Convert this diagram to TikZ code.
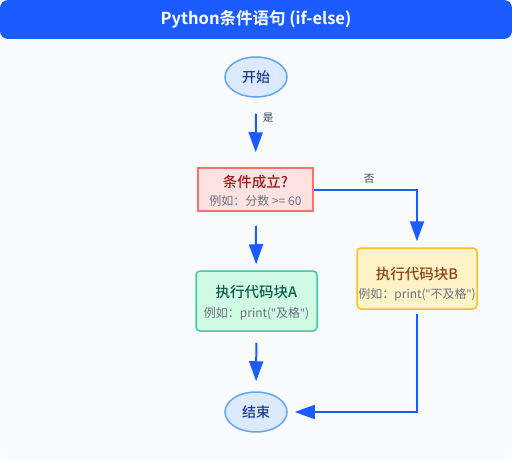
\documentclass[tikz,border=0pt]{standalone}
\usepackage{fontspec}
\setmainfont{Noto Sans CJK SC}[BoldFont={Noto Sans CJK SC Bold}]
\newfontfamily\cjkmed{Noto Sans CJK SC Medium}
\newfontfamily\latq{Noto Sans}
\usetikzlibrary{shapes.geometric,arrows.meta}
\definecolor{bgc}{HTML}{F8FAFC}
\definecolor{hdr}{HTML}{1A5CFF}
\definecolor{arr}{HTML}{1A5CFF}
\definecolor{ovfill}{HTML}{DBEAFE}
\definecolor{ovdraw}{HTML}{60A5FA}
\definecolor{ovtext}{HTML}{1E3A8A}
\definecolor{cfill}{HTML}{FEE2E2}
\definecolor{cdraw}{HTML}{F87171}
\definecolor{ctext}{HTML}{991B1B}
\definecolor{afill}{HTML}{D1FAE5}
\definecolor{adraw}{HTML}{34D399}
\definecolor{atext}{HTML}{065F46}
\definecolor{bfill}{HTML}{FEF3C7}
\definecolor{bdraw}{HTML}{FBBF24}
\definecolor{btext}{HTML}{92400E}
\definecolor{subtext}{HTML}{6B7280}
\definecolor{lbl}{HTML}{374151}
\newcommand{\qq}{{\latq"}}
\begin{document}
\begin{tikzpicture}[x=1pt,y=-1pt,
  oval/.style={ellipse,draw=ovdraw,fill=ovfill,line width=1.5pt,minimum width=62pt,minimum height=40pt,inner sep=0pt,text=ovtext,font=\cjkmed\fontsize{14}{16}\selectfont},
  boxc/.style={rectangle,draw=cdraw,fill=cfill,line width=1.5pt,minimum width=115pt,minimum height=43pt,inner sep=0pt,align=center},
  boxa/.style={rectangle,rounded corners=4pt,draw=adraw,fill=afill,line width=1.5pt,minimum width=121pt,minimum height=60pt,inner sep=0pt,align=center},
  boxb/.style={rectangle,rounded corners=4pt,draw=bdraw,fill=bfill,line width=1.5pt,minimum width=120pt,minimum height=61pt,inner sep=0pt,align=center},
  flow/.style={draw=arr,line width=2pt,-{Triangle[length=20pt,width=14pt]}},
  lab/.style={text=lbl,font=\fontsize{10.5}{12}\selectfont,inner sep=0pt},
  maintxt/.style={font=\cjkmed\fontsize{14.5}{16}\selectfont},
  subtxt/.style={font=\fontsize{12}{14}\selectfont}
]
\useasboundingbox (0,0) rectangle (512,460);
\fill[bgc,rounded corners=8pt] (0,0) rectangle (512,460);
\fill[hdr,rounded corners=8pt] (0,0) rectangle (512,39);
\node[text=white,font=\bfseries\fontsize{16.5}{18}\selectfont] (title) at (256,19.5) {Python条件语句 (if-else)};

\node[oval] (start) at (256,77) {开始};
\node[boxc] (cond) at (255.5,189.5) {};
\node[text=ctext,maintxt,inner sep=0pt] (condt) at (255.5,181.5) {条件成立?};
\node[text=subtext,subtxt,inner sep=0pt] (conds) at (255.5,200.5) {例如：分数 >= 60};
\node[boxa] (A) at (256.5,301) {};
\node[text=atext,maintxt,inner sep=0pt] (At) at (256.5,292) {执行代码块A};
\node[text=subtext,subtxt,inner sep=0pt] (As) at (256.5,314) {例如：print(\qq 及格\qq)};
\node[boxb] (B) at (417,278.5) {};
\node[text=btext,maintxt,inner sep=0pt] (Bt) at (417,274.5) {执行代码块B};
\node[text=subtext,subtxt,inner sep=0pt] (Bs) at (417,295) {例如：print(\qq 不及格\qq)};
\node[oval] (end) at (256,412) {结束};

\draw[flow,shorten <=16pt,shorten >=15pt] (start) -- (cond);
\draw[flow,shorten <=14pt,shorten >=6pt] (cond) -- (A);
\draw[flow,shorten <=11pt,shorten >=10pt] (A) -- (end);
\draw[flow,shorten >=6pt] (cond.east) -| (B.north);
\draw[flow,shorten <=4pt,shorten >=7pt] (B.south) |- (end.east);

\node[lab] (yes) at (268,118) {是};
\node[lab] (no) at (369,179) {否};
\end{tikzpicture}
\end{document}
